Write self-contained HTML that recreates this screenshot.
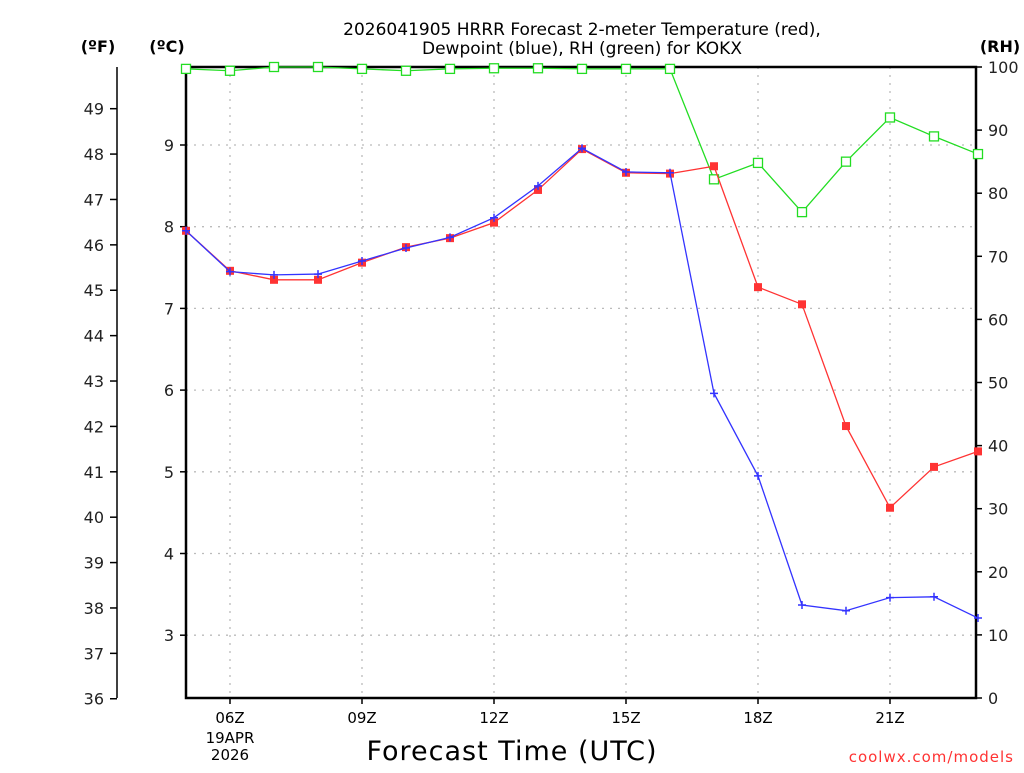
<!DOCTYPE html>
<html><head><meta charset="utf-8"><style>
body{margin:0;background:#fff;width:1024px;height:768px;overflow:hidden}
svg{font-family:"DejaVu Sans","Liberation Sans",sans-serif}
</style></head><body>
<svg id="chart" width="1024" height="768" viewBox="0 0 1024 768" xmlns="http://www.w3.org/2000/svg">
<text x="582" y="35" text-anchor="middle" font-size="17">2026041905 HRRR Forecast 2-meter Temperature (red),</text>
<text x="582" y="54" text-anchor="middle" font-size="17">Dewpoint (blue), RH (green) for KOKX</text>
<text x="98" y="52" text-anchor="middle" font-size="16" font-weight="bold">(ºF)</text>
<text x="167" y="52" text-anchor="middle" font-size="16" font-weight="bold">(ºC)</text>
<text x="1000" y="52" text-anchor="middle" font-size="16" font-weight="bold">(RH)</text>
<text x="512" y="760" text-anchor="middle" font-size="27" letter-spacing="1">Forecast Time (UTC)</text>
<text x="1014" y="762" text-anchor="end" font-size="15" fill="#ff3333" letter-spacing="1">coolwx.com/models</text>
<g id="g"></g>
</svg>
<script>
const hours=[5,6,7,8,9,10,11,12,13,14,15,16,17,18,19,20,21,22,23];
const tempC=[7.95,7.46,7.35,7.35,7.56,7.75,7.86,8.05,8.45,8.95,8.66,8.65,8.74,7.26,7.05,5.56,4.56,5.06,5.25];
const dewC=[7.95,7.45,7.41,7.42,7.58,7.74,7.87,8.11,8.5,8.96,8.67,8.66,5.96,4.95,3.37,3.30,3.46,3.47,3.21];
const rh=[99.7,99.4,100,100,99.7,99.4,99.7,99.8,99.8,99.7,99.7,99.7,82.2,84.8,77,85,92,89,86.2];
const xTicks=[6,9,12,15,18,21];
const xTickLabels=["06Z","09Z","12Z","15Z","18Z","21Z"];
const cTicks=[3,4,5,6,7,8,9];
const fTicks=[36,37,38,39,40,41,42,43,44,45,46,47,48,49];
const rhTicks=[0,10,20,30,40,50,60,70,80,90,100];
const L=186,R=976,T=67,B=698;
const X=h=>L+(h-5)*44;
const YC=c=>145+(9-c)*81.7;
const YF=f=>YC((f-32)*5/9);
const YR=r=>B-(B-T)*r/100;
const NS="http://www.w3.org/2000/svg";
const g=document.getElementById('g');
function mk(t,a,txt){const e=document.createElementNS(NS,t);for(const k in a)e.setAttribute(k,a[k]);if(txt!=null)e.textContent=txt;g.appendChild(e);return e;}
const gd={stroke:"#bbb","stroke-width":1.3,"stroke-dasharray":"2 6"};
xTicks.forEach((h,i)=>{
 let e=mk('line',Object.assign({x1:X(h),x2:X(h),y1:T,y2:B},gd));
 
 
 e=mk('line',{x1:X(h),x2:X(h),y1:B,y2:B+6,stroke:"#000","stroke-width":1.5});
 
 
 e=mk('text',{x:X(h),y:B+25,"text-anchor":"middle","font-size":15},xTickLabels[i]);
 
 
});
let d1=mk('text',{x:X(6),y:B+45,"text-anchor":"middle","font-size":15},"19APR");


let d2=mk('text',{x:X(6),y:B+62,"text-anchor":"middle","font-size":15},"2026");


cTicks.forEach(c=>{
 let e=mk('line',Object.assign({x1:L,x2:R,y1:YC(c),y2:YC(c)},gd));
 
 
 e=mk('line',{x1:L-6,x2:L,y1:YC(c),y2:YC(c),stroke:"#000","stroke-width":1.5});
 
 
 e=mk('text',{x:L-12,y:YC(c)+6,"text-anchor":"end","font-size":16,fill:"#222"},c);
 
 
});
let fa=mk('line',{x1:117,x2:117,y1:T,y2:B,stroke:"#000","stroke-width":1.5});


fTicks.forEach(f=>{
 let e=mk('line',{x1:110,x2:117,y1:YF(f),y2:YF(f),stroke:"#000","stroke-width":1.5});
 
 
 e=mk('text',{x:104,y:YF(f)+6,"text-anchor":"end","font-size":16,fill:"#222"},f);
 
 
});
rhTicks.forEach(r=>{
 let e=mk('line',{x1:R,x2:R+6,y1:YR(r),y2:YR(r),stroke:"#000","stroke-width":1.5});
 
 
 e=mk('text',{x:R+12,y:YR(r)+6,"font-size":16,fill:"#222"},r);
 
 
});
let fr=mk('rect',{x:L,y:T,width:R-L,height:B-T,fill:"none",stroke:"#000","stroke-width":2.5});


function series(vals,yf,color,name,marker){
 const pts=vals.map((v,i)=>X(hours[i])+","+yf(v)).join(" ");
 let e=mk('polyline',{points:pts,fill:"none",stroke:color,"stroke-width":1.3});
 
 
 vals.forEach((v,i)=>{
  const x=X(hours[i]),y=yf(v);let m;
  if(marker==='sq')m=mk('rect',{x:x-4,y:y-4,width:8,height:8,fill:color});
  else if(marker==='osq')m=mk('rect',{x:x-4.5,y:y-4.5,width:9,height:9,fill:"#fff",stroke:color,"stroke-width":1.3});
  else m=mk('path',{d:`M${x-4},${y}H${x+4}M${x},${y-4}V${y+4}`,stroke:color,"stroke-width":1.5});
  
  
 });
}
series(rh,YR,"#22dd22","rh",'osq');
series(tempC,YC,"#ff3333","temperature",'sq');
series(dewC,YC,"#3333ff","dewpoint",'plus');
</script>
</body></html>
